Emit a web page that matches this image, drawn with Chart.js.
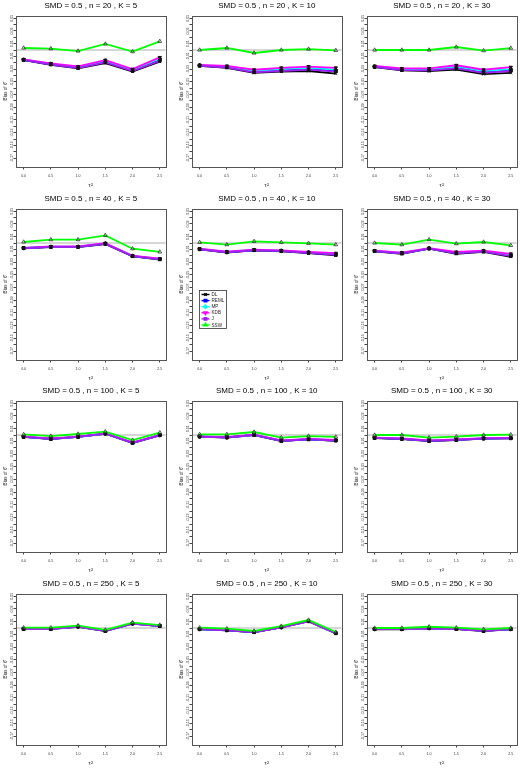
<!DOCTYPE html>
<html><head><meta charset="utf-8">
<script src="https://cdn.jsdelivr.net/npm/chart.js@4"></script>
<style>
html,body{margin:0;padding:0;background:#fff;width:525px;height:770px;overflow:hidden}
canvas{position:absolute}
</style></head><body>
<script>
// ---- data ----
const tau2 = [0, 0.5, 1, 1.5, 2, 2.5];
const xTickLabels = ['0.0','0.5','1.0','1.5','2.0','2.5'];
const yTicks = [0.05,0.04,0.03,0.02,0.01,0,-0.01,-0.02,-0.03,-0.04,-0.05,-0.06,-0.07,-0.08,-0.09,-0.10,-0.11,-0.12,-0.13,-0.14,-0.15,-0.16,-0.17];
const yTickLabels = ['0.05','','0.03','','0.01','','-0.01','','-0.03','','-0.05','','-0.07','','-0.09','','-0.11','','-0.13','','-0.15','','-0.17'];
const sampleSizes = [20, 40, 100, 250];
const studyCounts = [5, 10, 30];
const seriesNames = ['DL','REML','MP','KDB','J','SSW'];

// one row per panel: (n=20,K=5),(20,10),(20,30),(40,5),...,(250,30)
const DL = [
  [-0.0158,-0.0232,-0.0290,-0.0205,-0.0337,-0.0184],
  [-0.0250,-0.0280,-0.0360,-0.0340,-0.0330,-0.0370],
  [-0.0270,-0.0320,-0.0330,-0.0310,-0.0380,-0.0360],
  [-0.0084,-0.0063,-0.0063,-0.0016,-0.0210,-0.0260],
  [-0.0100,-0.0150,-0.0116,-0.0130,-0.0160,-0.0195],
  [-0.0130,-0.0170,-0.0090,-0.0170,-0.0140,-0.0216],
  [-0.0030,-0.0063,-0.0030,0.0020,-0.0126,-0.0005],
  [-0.0026,-0.0040,0.0000,-0.0095,-0.0070,-0.0090],
  [-0.0047,-0.0063,-0.0095,-0.0080,-0.0058,-0.0053],
  [-0.0016,-0.0016,0.0020,-0.0047,0.0068,0.0030],
  [-0.0020,-0.0037,-0.0068,0.0010,0.0105,-0.0084],
  [-0.0020,-0.0020,-0.0005,-0.0016,-0.0047,-0.0020]
];
const REML = [
  [-0.0154,-0.0224,-0.0278,-0.0185,-0.0322,-0.0155],
  [-0.0245,-0.0270,-0.0340,-0.0320,-0.0300,-0.0330],
  [-0.0265,-0.0310,-0.0320,-0.0280,-0.0350,-0.0320],
  [-0.0081,-0.0060,-0.0060,-0.0011,-0.0206,-0.0255],
  [-0.0097,-0.0145,-0.0112,-0.0125,-0.0153,-0.0184],
  [-0.0127,-0.0163,-0.0087,-0.0160,-0.0133,-0.0200],
  [-0.0028,-0.0060,-0.0028,0.0022,-0.0122,-0.0003],
  [-0.0024,-0.0038,0.0002,-0.0092,-0.0067,-0.0086],
  [-0.0045,-0.0060,-0.0092,-0.0077,-0.0055,-0.0050],
  [-0.0015,-0.0015,0.0022,-0.0045,0.0070,0.0032],
  [-0.0018,-0.0035,-0.0065,0.0012,0.0107,-0.0082],
  [-0.0018,-0.0018,-0.0003,-0.0015,-0.0045,-0.0018]
];
const MP = [
  [-0.0151,-0.0218,-0.0270,-0.0172,-0.0312,-0.0135],
  [-0.0240,-0.0260,-0.0330,-0.0300,-0.0280,-0.0310],
  [-0.0260,-0.0300,-0.0310,-0.0260,-0.0330,-0.0300],
  [-0.0078,-0.0058,-0.0058,-0.0007,-0.0203,-0.0250],
  [-0.0093,-0.0141,-0.0108,-0.0120,-0.0147,-0.0172],
  [-0.0123,-0.0157,-0.0083,-0.0150,-0.0127,-0.0185],
  [-0.0027,-0.0058,-0.0027,0.0023,-0.0119,-0.0002],
  [-0.0022,-0.0037,0.0003,-0.0088,-0.0065,-0.0082],
  [-0.0042,-0.0058,-0.0088,-0.0073,-0.0053,-0.0048],
  [-0.0013,-0.0013,0.0023,-0.0042,0.0071,0.0033],
  [-0.0017,-0.0032,-0.0062,0.0013,0.0108,-0.0080],
  [-0.0017,-0.0017,-0.0002,-0.0013,-0.0042,-0.0017]
];
const KDB = [
  [-0.0147,-0.0210,-0.0258,-0.0158,-0.0300,-0.0116],
  [-0.0235,-0.0250,-0.0310,-0.0280,-0.0260,-0.0280],
  [-0.0250,-0.0290,-0.0290,-0.0240,-0.0310,-0.0270],
  [-0.0075,-0.0055,-0.0055,-0.0003,-0.0200,-0.0245],
  [-0.0090,-0.0137,-0.0105,-0.0116,-0.0140,-0.0160],
  [-0.0120,-0.0150,-0.0080,-0.0140,-0.0120,-0.0170],
  [-0.0025,-0.0055,-0.0025,0.0025,-0.0115,0.0000],
  [-0.0020,-0.0035,0.0005,-0.0085,-0.0062,-0.0078],
  [-0.0040,-0.0055,-0.0085,-0.0070,-0.0050,-0.0045],
  [-0.0012,-0.0012,0.0025,-0.0040,0.0073,0.0035],
  [-0.0015,-0.0030,-0.0060,0.0015,0.0110,-0.0078],
  [-0.0015,-0.0015,0.0000,-0.0012,-0.0040,-0.0015]
];
const J = [
  [-0.0156,-0.0228,-0.0283,-0.0195,-0.0330,-0.0170],
  [-0.0248,-0.0275,-0.0350,-0.0330,-0.0310,-0.0340],
  [-0.0265,-0.0315,-0.0320,-0.0290,-0.0360,-0.0330],
  [-0.0082,-0.0061,-0.0061,-0.0013,-0.0208,-0.0257],
  [-0.0098,-0.0147,-0.0114,-0.0127,-0.0156,-0.0188],
  [-0.0128,-0.0165,-0.0088,-0.0163,-0.0135,-0.0205],
  [-0.0029,-0.0061,-0.0029,0.0021,-0.0124,-0.0004],
  [-0.0025,-0.0039,0.0001,-0.0093,-0.0068,-0.0087],
  [-0.0046,-0.0061,-0.0093,-0.0078,-0.0056,-0.0051],
  [-0.0015,-0.0015,0.0021,-0.0046,0.0069,0.0031],
  [-0.0019,-0.0036,-0.0066,0.0011,0.0106,-0.0083],
  [-0.0019,-0.0019,-0.0004,-0.0015,-0.0046,-0.0019]
];
const SSW = [
  [0.0032,0.0021,-0.0016,0.0095,-0.0026,0.0137],
  [0.0000,0.0032,-0.0047,0.0000,0.0015,-0.0005],
  [0.0000,0.0000,0.0000,0.0047,-0.0010,0.0030],
  [0.0016,0.0053,0.0053,0.0120,-0.0090,-0.0140],
  [0.0010,-0.0026,0.0026,0.0010,-0.0005,-0.0026],
  [0.0000,-0.0026,0.0053,-0.0010,0.0016,-0.0037],
  [0.0010,-0.0016,0.0016,0.0053,-0.0080,0.0037],
  [0.0010,0.0010,0.0047,-0.0040,-0.0016,-0.0030],
  [0.0000,0.0000,-0.0040,-0.0026,0.0000,0.0005],
  [0.0005,0.0005,0.0037,-0.0030,0.0084,0.0047],
  [0.0005,-0.0010,-0.0047,0.0030,0.0126,-0.0063],
  [0.0000,0.0000,0.0020,0.0005,-0.0020,0.0000]
];
const allSeries = [DL, REML, MP, KDB, J, SSW];

// ---- styles ----
const FONT = "'Liberation Sans', Arial, sans-serif";
const colors = ['#000000','#0000FF','#00FFFF','#FF00FF','#A020F0','#00FF00'];
const ptStyles = ['crossRot','rect','rectRot','triangle','rect','triangle'];
const ptRot = [0,0,0,180,0,0];
const drawOrder = [5,4,3,2,1,0];

const panelPlugin = {
  id: 'panelDeco',
  beforeDatasetsDraw(chart) {
    const {ctx, chartArea: a, scales: {y}} = chart;
    const py = y.getPixelForValue(0);
    ctx.save();
    ctx.strokeStyle = '#d6d6d6'; ctx.lineWidth = 2;
    ctx.beginPath(); ctx.moveTo(a.left, py); ctx.lineTo(a.right, py); ctx.stroke();
    ctx.restore();
  },
  afterDraw(chart) {
    const {ctx, chartArea: a, scales: {y}} = chart;
    ctx.save();
    ctx.strokeStyle = '#555'; ctx.lineWidth = 1;
    ctx.strokeRect(Math.round(a.left) + 0.5, Math.round(a.top) + 0.5, Math.round(a.right - a.left), Math.round(a.bottom - a.top));
    // rotated y tick labels (parallel to axis)
    ctx.fillStyle = '#333';
    ctx.font = '3.6px ' + FONT;
    ctx.textAlign = 'center'; ctx.textBaseline = 'middle';
    y.ticks.forEach((t, i) => {
      const lab = yTickLabels[i];
      if (!lab) return;
      ctx.save();
      ctx.translate(11.5, y.getPixelForValue(t.value));
      ctx.rotate(-Math.PI / 2);
      ctx.fillText(lab, 0, 0);
      ctx.restore();
    });
    if (chart.options.plugins.panelDeco.legend) {
      const lx = a.left + 7, ly = a.top + 81, w = 27, h = 38;
      ctx.fillStyle = '#fff'; ctx.fillRect(lx, ly, w, h);
      ctx.strokeStyle = '#333'; ctx.lineWidth = 0.8; ctx.strokeRect(lx + 0.5, ly + 0.5, w, h);
      ctx.font = '4.6px ' + FONT; ctx.textAlign = 'left'; ctx.textBaseline = 'middle';
      seriesNames.forEach((nm, i) => {
        const yy = ly + 4.5 + i * 6.1;
        ctx.strokeStyle = colors[i]; ctx.lineWidth = 1.4;
        ctx.beginPath(); ctx.moveTo(lx + 2.5, yy); ctx.lineTo(lx + 10.5, yy); ctx.stroke();
        ctx.fillStyle = colors[i];
        Chart.helpers.drawPoint(ctx, {pointStyle: ptStyles[i], rotation: ptRot[i], radius: 1.8, borderWidth: 0.8}, lx + 6.5, yy);
        ctx.fillStyle = '#222';
        ctx.fillText(nm, lx + 12.5, yy + 0.3);
      });
    }
    ctx.restore();
  }
};

const rowTops = [0, 193, 385, 578];
const colLefts = [0, 176, 351];

sampleSizes.forEach((n, r) => {
  studyCounts.forEach((K, c) => {
    const p = r * 3 + c;
    const cv = document.createElement('canvas');
    cv.width = 175; cv.height = 192;
    cv.style.left = colLefts[c] + 'px'; cv.style.top = rowTops[r] + 'px';
    cv.style.width = '175px'; cv.style.height = '192px';
    document.body.appendChild(cv);
    const datasets = seriesNames.map((nm, s) => ({
      label: nm,
      data: tau2.map((x, i) => ({x, y: allSeries[s][p][i]})),
      borderColor: colors[s],
      backgroundColor: s === 5 ? 'rgba(0,0,0,0)' : '#111',
      pointBorderColor: s === 5 ? '#333' : '#111',
      pointBackgroundColor: s === 5 ? 'rgba(0,0,0,0)' : '#111',
      pointStyle: ptStyles[s],
      rotation: ptRot[s],
      pointRadius: s === 5 ? 2.2 : 1.9,
      pointBorderWidth: s === 5 ? 0.8 : 1,
      borderWidth: 1.8,
      tension: 0,
      order: drawOrder[s]
    }));
    new Chart(cv, {
      type: 'line',
      data: {datasets},
      plugins: [panelPlugin],
      options: {
        responsive: false, animation: false, devicePixelRatio: 1,
        layout: {padding: {left: 0, right: 9.5, top: 0, bottom: 0}},
        plugins: {
          legend: {display: false},
          tooltip: {enabled: false},
          title: {
            display: true, fullSize: false,
            text: `SMD = 0.5 , n = ${n} , K = ${K}`,
            color: '#000',
            font: {family: FONT, size: 8, weight: 'normal', lineHeight: 1.2},
            padding: {top: 1, bottom: 5.4}
          },
          panelDeco: {legend: (n === 40 && K === 10)}
        },
        scales: {
          x: {
            type: 'linear', min: -0.14, max: 2.605,
            afterBuildTicks: s => { s.ticks = tau2.map(v => ({value: v})); },
            afterFit: s => { s.height = 25; },
            ticks: {
              autoSkip: false, maxRotation: 0, minRotation: 0, padding: 4.5,
              color: '#333', font: {family: FONT, size: 3.6},
              callback: (v, i) => xTickLabels[i]
            },
            grid: {drawOnChartArea: false, drawTicks: true, tickLength: 2.5, color: '#444'},
            border: {display: true, color: '#444'},
            title: {display: true, text: 'τ²', color: '#222', font: {family: FONT, size: 6}, padding: {top: 0, bottom: 3}}
          },
          y: {
            type: 'linear', min: -0.184, max: 0.0535,
            afterBuildTicks: s => { s.ticks = yTicks.map(v => ({value: v})); },
            afterFit: s => { s.width = 16; },
            ticks: {display: false},
            grid: {drawOnChartArea: false, drawTicks: true, tickLength: 2.5, color: '#444'},
            border: {display: true, color: '#444'},
            title: {display: true, text: 'Bias of θ̂', color: '#222', font: {family: FONT, size: 4.6}, padding: {top: 2.5, bottom: 0}}
          }
        }
      }
    });
  });
});
</script>
</body></html>
